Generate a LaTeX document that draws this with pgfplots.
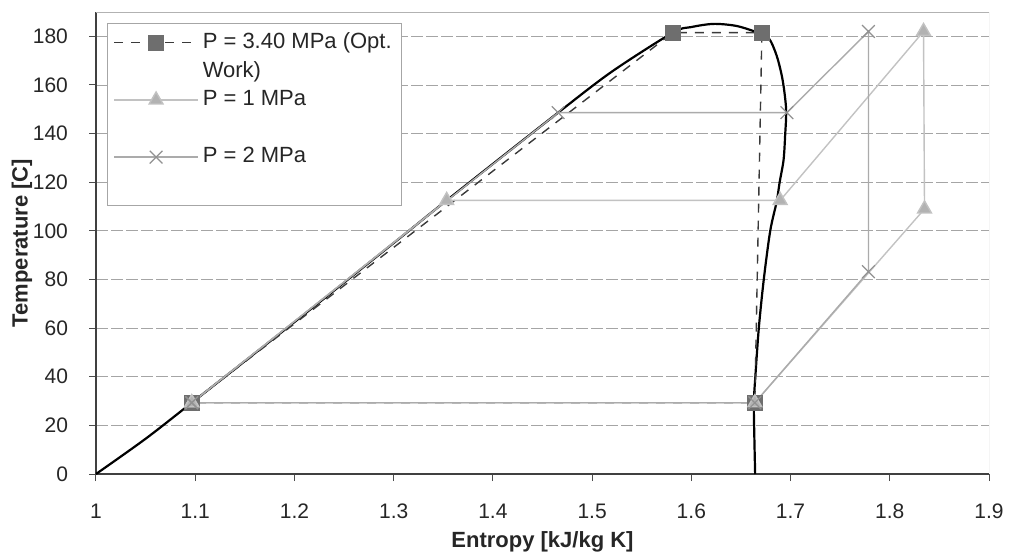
\documentclass[border=0pt]{standalone}
\usepackage{fontspec}
\setmainfont{Liberation Sans}
\usepackage{pgfplots}
\pgfplotsset{compat=1.18}
\definecolor{optline}{HTML}{3A3A3A}
\definecolor{optfill}{HTML}{6E6E6E}
\definecolor{onempa}{HTML}{C2C2C2}
\definecolor{twompa}{HTML}{ABABAB}
\definecolor{gridgray}{HTML}{A5A5A5}

\begin{document}
\begin{tikzpicture}
\begin{axis}[
    name=ax,
    scale only axis,
    width=446.5pt, height=231pt,
    xmin=1, xmax=1.9, ymin=0, ymax=190,
    xtick={1,1.1,1.2,1.3,1.4,1.5,1.6,1.7,1.8,1.9},
    xticklabels={1,1.1,1.2,1.3,1.4,1.5,1.6,1.7,1.8,1.9},
    ytick={0,20,40,60,80,100,120,140,160,180},
    axis x line*=bottom, axis y line*=left,
    axis line style={black!75, line width=0.6pt},
    tick align=outside, major tick length=3.5pt,
    tick style={black!70, line width=0.5pt},
    ymajorgrids,
    major grid style={gridgray, line width=0.35pt, dash pattern=on 6pt off 1.5pt},
    /pgf/number format/assume math mode=true,
    tick label style={font=\fontsize{10.5}{12}\selectfont, text=black!85},
    xticklabel style={yshift=-8pt},
    yticklabel style={xshift=-7pt},
    xlabel={Entropy [kJ/kg K]},
    ylabel={Temperature [C]},
    label style={font=\bfseries\fontsize{11}{13}\selectfont, text=black!85},
    xlabel style={at={(axis description cs:0.5,-0.1472)}, anchor=center},
    ylabel style={at={(axis description cs:-0.0829,0.5)}, anchor=center},
    legend style={at={(axis description cs:0.0123,0.976)}, anchor=north west,
        draw=gray!70, line width=0.4pt, fill=white,
        font=\fontsize{11}{13}\selectfont, text=black!85,
        inner xsep=3pt, inner ysep=2.5pt, row sep=0pt,
        nodes={text depth=2.3pt, text height=8pt}},
    legend cell align=left,
    legend image code/.code={\draw[mark repeat=2,mark phase=2,#1] plot coordinates {(0pt,0pt) (21pt,0pt) (42pt,0pt)};},
]
% saturation dome
\addplot[black, line width=1.1pt, smooth, tension=0.5, forget plot] coordinates {
  (1.000,0) (1.050,14.5) (1.0965,29.3) (1.20,62.5) (1.30,95) (1.3534,112.5)
  (1.4657,148.6) (1.52,165.5) (1.5813,181.5) (1.60,183.8) (1.6223,185.1)
  (1.645,184.3) (1.665,181.8) (1.6777,179.4) (1.686,172) (1.692,162)
  (1.6955,150) (1.6945,139) (1.6929,129) (1.689,120) (1.686,112)
  (1.6795,100) (1.673,80) (1.668,60) (1.6645,40) (1.663,29.3) (1.6635,15) (1.6643,0)
};
% P = 3.40 MPa (optimum work)
\addplot[optline, line width=0.7pt, dash pattern=on 4.5pt off 4pt,
    mark=square*, mark size=3.6pt, mark options={solid, fill=optfill, draw=optfill}]
  coordinates {(1.0965,29.3) (1.5813,181.5) (1.6711,181.5) (1.664,29.3) (1.0965,29.3)};
\addlegendimage{empty legend}
% P = 1 MPa
\addplot[onempa, line width=0.7pt,
    mark=triangle*, mark size=4pt, mark options={fill=onempa!92!black, draw=onempa}]
  coordinates {(1.0965,29.3) (1.3534,112.5) (1.6895,112.5) (1.834,182) (1.835,109) (1.664,29.3) (1.0965,29.3)};
\addlegendimage{empty legend}
% P = 2 MPa
\addplot[twompa, line width=0.7pt,
    mark=x, mark size=4.5pt, mark options={draw=twompa!85!black, line width=0.6pt}]
  coordinates {(1.0965,29.3) (1.4657,148.6) (1.6963,148.6) (1.7785,182) (1.7785,83.2) (1.664,29.3) (1.0965,29.3)};
\addlegendimage{empty legend}
\draw[gray!60, line width=0.4pt] (rel axis cs:0,1) -- (rel axis cs:1,1) -- (rel axis cs:1,0);
\legend{P = 3.40 MPa (Opt.,Work),P = 1 MPa,~,P = 2 MPa,~}
\end{axis}
\pgfresetboundingbox
\path ([shift={(-48pt,-40.5pt)}]ax.south west) rectangle ([shift={(15pt,6pt)}]ax.north east);
\end{tikzpicture}
\end{document}
